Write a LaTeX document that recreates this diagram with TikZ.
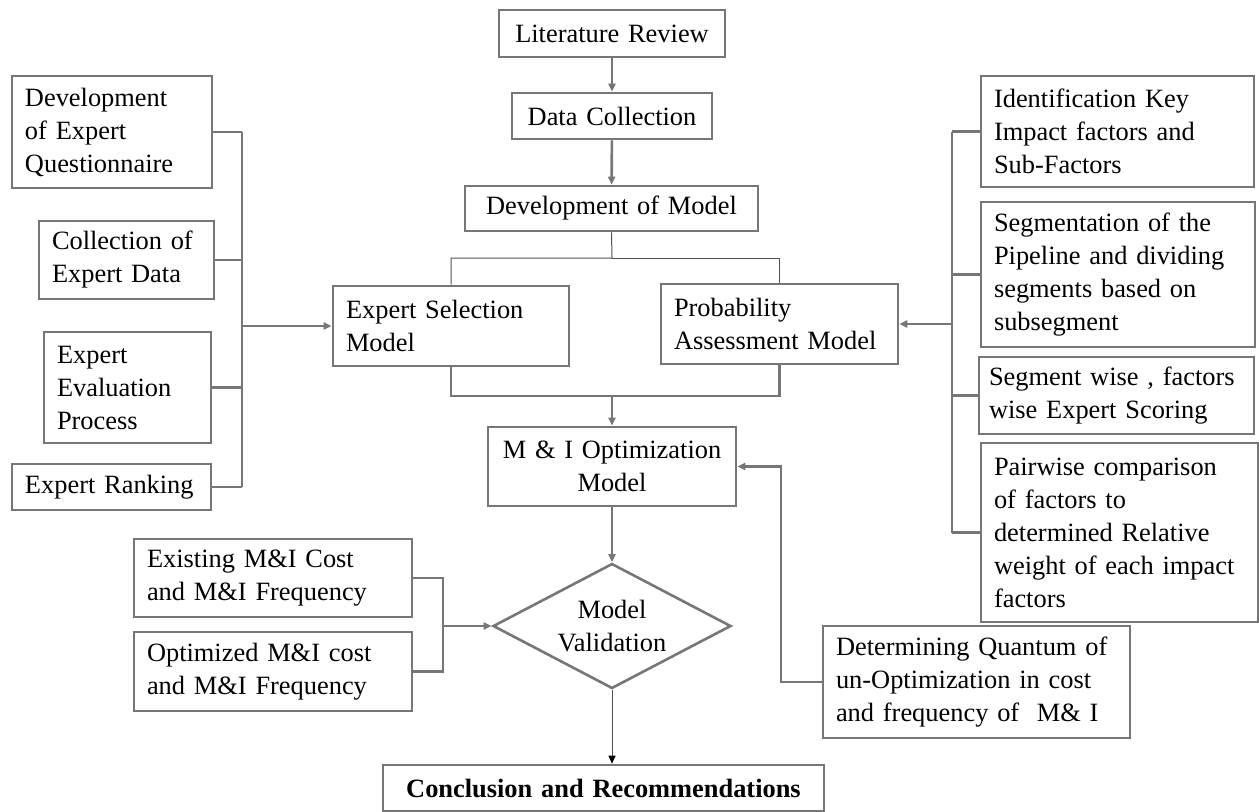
\documentclass[tikz,border=0pt]{standalone}
\usepackage{fontspec}
\setmainfont{Liberation Serif}
\usetikzlibrary{arrows.meta, shapes.geometric}
\definecolor{linegray}{RGB}{118,118,118}
\definecolor{thingray}{RGB}{80,80,80}

\begin{document}
\begin{tikzpicture} [x=0.5pt, y=-0.5pt,
			font=\fontsize{13.2}{16.5}\selectfont,
			box/.style={draw=linegray, line width=1.3pt, align=left, inner xsep=6.5pt, inner ysep=0pt},
			cbox/.style={box, align=center},
			link/.style={draw=linegray, line width=1.3pt},
			arr/.style={link, -{Triangle[length=4pt, width=3.5pt]}},
			thin/.style={draw=thingray, line width=0.5pt},
		]
		\useasboundingbox (0,0) rectangle (1259,811);

		% Main column
		\node (lit) [cbox, text width=100pt, minimum height=23.5pt] at (612,33.5) {Literature Review};
		\node (dc) [cbox, text width=87pt, minimum height=23pt] at (612,116) {Data Collection};
		\node (dm) [cbox, text width=133.5pt, minimum height=22.5pt] at (611.5,208.5) {Development of Model};
		\node (esm) [box, text width=105pt, minimum height=40pt] at (451,326) {Expert Selection\\Model};
		\node (pam) [box, text width=105.5pt, minimum height=40pt] at (779.5,324) {Probability\\Assessment Model};
		\node (mio) [cbox, text width=111pt, minimum height=39.5pt] at (612,466.5) {M \& I Optimization\\Model};
		\node (mv) [diamond,
			draw=linegray, line width=1.3pt,
			align=center, aspect=1.9, inner sep=1pt,
			minimum width=119pt, minimum height=62.5pt] at (612,626) {Model\\Validation};
		\node (con) [cbox, text width=207.5pt, minimum height=23pt,
			font=\fontsize{13.2}{16.5}\selectfont\bfseries] at (603.5,788) {Conclusion and Recommendations};

		% Expert side
		\node (dq) [box, text width=87pt, minimum height=56pt] at (112,132) {Development\\of Expert\\Questionnaire};
		\node (ced) [box, text width=74.5pt, minimum height=39pt] at (126.5,260) {Collection of\\Expert Data};
		\node (eep) [box, text width=70.5pt, minimum height=55.5pt] at (127.5,387.5) {Expert\\Evaluation\\Process};
		\node (er) [box, text width=86.5pt, minimum height=23pt] at (111.5,487) {Expert Ranking};

		% Probability side
		\node (ikf) [box, text width=123.5pt, minimum height=55.5pt] at (1117.5,131.5) {Identification Key\\Impact factors and\\Sub-Factors};
		\node (seg) [box, text width=124pt, minimum height=72.5pt] at (1118,274.5) {Segmentation of the\\Pipeline and dividing\\segments based on\\subsegment};
		\node (sws) [box, inner xsep=5pt, text width=127.5pt, minimum height=38.5pt] at (1116.5,395.5) {Segment wise , factors\\wise Expert Scoring};
		\node (pwc) [box, text width=125.5pt, minimum height=89.5pt] at (1119.5,532.5) {Pairwise comparison\\of factors to\\determined Relative\\weight of each impact\\factors};
		\node (dqo) [box, text width=140.5pt, minimum height=56pt] at (976.5,682) {Determining Quantum of\\un-Optimization in cost\\and frequency of\ \ M\& I};

		% Validation inputs
		\node (emc) [box, text width=126pt, minimum height=39pt] at (273,578) {Existing M\&I Cost\\and M\&I Frequency};
		\node (omc) [box, text width=126pt, minimum height=39.5pt] at (273,671.5) {Optimized M\&I cost\\and M\&I Frequency};

		% Junctions
		\coordinate (split) at (612,258);
		\coordinate (join) at (612,396);
		\coordinate (lbus) at (242,326);
		\coordinate (rbus) at (952,324);
		\coordinate (mbus) at (443,626);
		\coordinate (fb) at (781,466.5);

		% Arrows
		\path
		(lit) edge [arr] (dc)
		(dc) edge [arr] (dm)
		(join) edge [arr] (mio)
		(mio) edge [arr] (mv)
		(lbus) edge [arr] (esm.west)
		(rbus) edge [arr] (pam.east)
		(mbus) edge [arr] (mv.west)
		;
		\draw [thin] (dm.south) -- (split) -| (esm.north);
		\draw [thin] (split) -| (pam.north);
		\draw [link] (esm.south) |- (join) -| (pam.south);
		\draw [thin, -{Triangle[length=4pt, width=3.5pt, color=black]}] (mv.south) -- (mv.south |- con.north);

		% Buses
		\path
		(dq.east -| lbus) edge [link] (er.east -| lbus)
		(dq.east) edge [link] (dq.east -| lbus)
		(ced.east) edge [link] (ced.east -| lbus)
		(eep.east) edge [link] (eep.east -| lbus)
		(er.east) edge [link] (er.east -| lbus)
		(ikf.west -| rbus) edge [link] (pwc.west -| rbus)
		(ikf.west) edge [link] (ikf.west -| rbus)
		(seg.west) edge [link] (seg.west -| rbus)
		(sws.west) edge [link] (sws.west -| rbus)
		(pwc.west) edge [link] (pwc.west -| rbus)
		;
		\draw [link] (emc.east) -| (mbus) |- (omc.east);
		\draw [arr] (dqo.west) -| (fb) -- (mio.east);
	\end{tikzpicture}
\end{document}
